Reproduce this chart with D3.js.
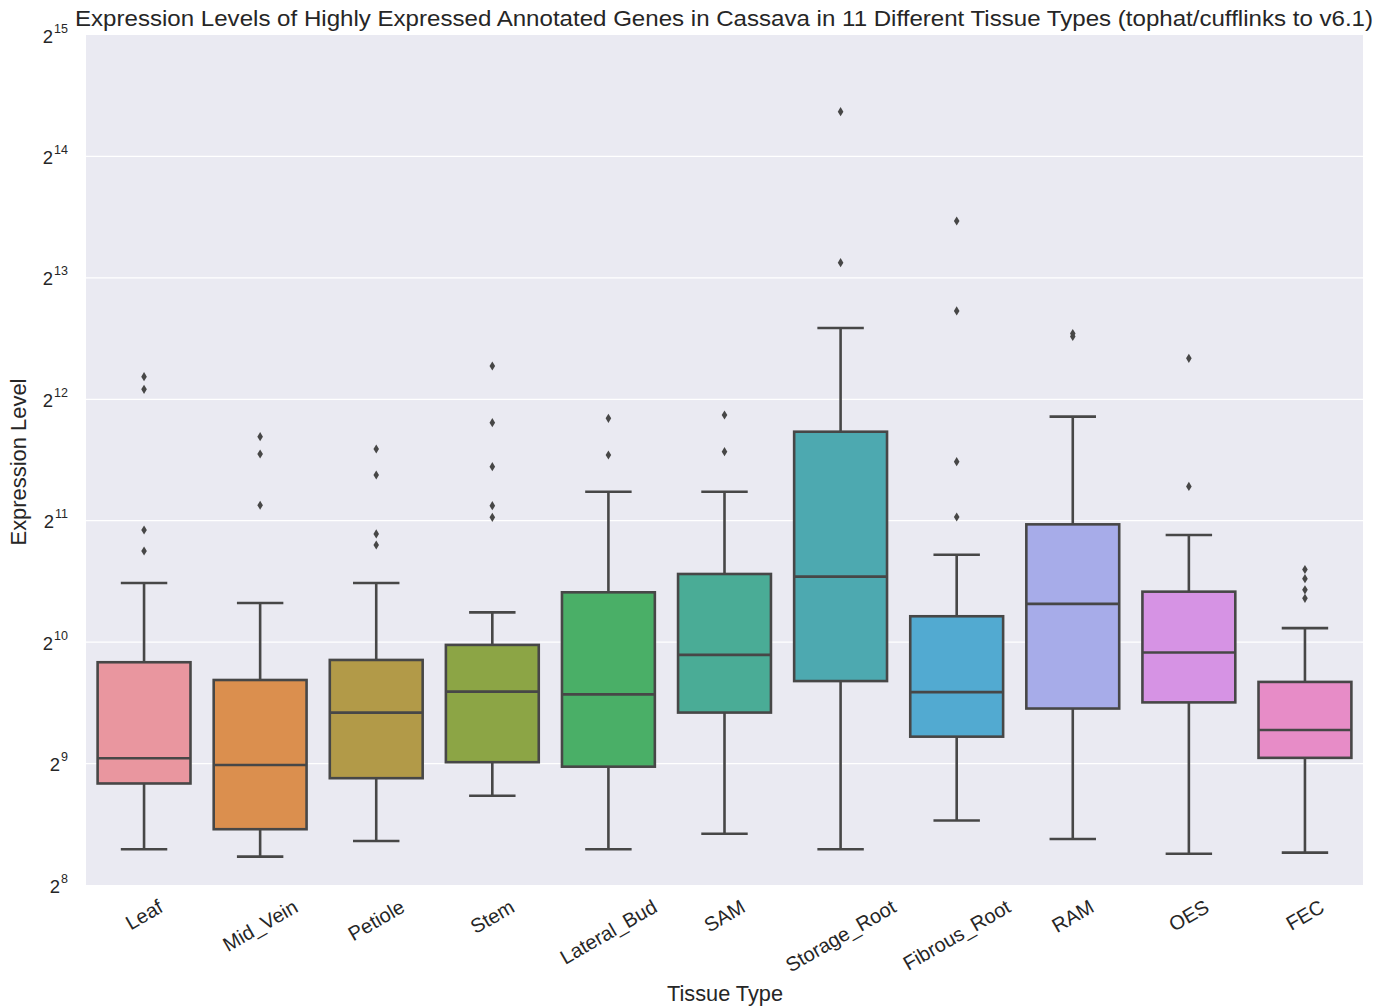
<!DOCTYPE html>
<html>
<head>
<meta charset="utf-8">
<script src="https://cdn.jsdelivr.net/npm/d3@7"></script>
<style>
  html, body { margin: 0; padding: 0; background: #ffffff; }
  svg { display: block; font-family: "Liberation Sans", Arial, sans-serif; }
</style>
</head>
<body>
<svg id="chart" width="1393" height="1007"></svg>
<script>
// Tissue types and box-plot summaries of expression level (FPKM-style values)
const categories = ["Leaf", "Mid_Vein", "Petiole", "Stem", "Lateral_Bud", "SAM",
                    "Storage_Root", "Fibrous_Root", "RAM", "OES", "FEC"];
const whiskerLow  = [314, 301, 329, 426, 314, 343, 314, 370, 333, 306, 308];
const quartile1   = [457, 352, 471, 516, 503, 685, 820, 597, 701, 726, 529];
const medians     = [528, 508, 685, 772, 760, 952, 1488, 770, 1274, 965, 620];
const quartile3   = [913, 825, 925, 1008, 1361, 1511, 3404, 1187, 2006, 1366, 816];
const whiskerHigh = [1435, 1280, 1435, 1214, 2417, 2417, 6153, 1687, 3711, 1887, 1109];
const outliers = [
  [1723, 1942, 4336, 4660],
  [2237, 2997, 3309],
  [1783, 1899, 2659, 3084],
  [2088, 2231, 2788, 3584, 4953],
  [2980, 3675],
  [3037, 3745],
  [8933, 21150],
  [2092, 2868, 6781, 11333],
  [5862, 5963],
  [2491, 5176],
  [1315, 1380, 1471, 1550]
];
const boxColors = ["#E9969F", "#DB8F4E", "#B29A48", "#8CA545", "#4AAF67", "#4AAC96",
                   "#4DA9B0", "#52AAD1", "#A7ACE9", "#D693E4", "#E78CC7"];
const tickExponents = [8, 9, 10, 11, 12, 13, 14, 15];

const titleText = "Expression Levels of Highly Expressed Annotated Genes in Cassava in 11 Different Tissue Types (tophat/cufflinks to v6.1)";
const xLabelText = "Tissue Type";
const yLabelText = "Expression Level";

const margin = { left: 86, right: 30, top: 35, bottom: 122 };
const W = 1393, H = 1007;
const plotW = W - margin.left - margin.right;
const plotH = H - margin.top - margin.bottom;

const lineColor = "#474747";
const lineWidth = 2.6;
const textColor = "#262626";

const svg = d3.select("#chart");
const g = svg.append("g").attr("transform", `translate(${margin.left},${margin.top})`);

const x = d3.scaleBand().domain(categories).range([0, plotW]).paddingInner(0).paddingOuter(0);
const y = d3.scaleLog().base(2)
  .domain([Math.pow(2, tickExponents[0]), Math.pow(2, tickExponents[tickExponents.length - 1])])
  .range([plotH, 0]);

// Axes background and grid
g.append("rect").attr("width", plotW).attr("height", plotH).attr("fill", "#EAEAF2");
g.append("g").selectAll("line").data(tickExponents.slice(1, -1)).join("line")
  .attr("x1", 0).attr("x2", plotW)
  .attr("y1", d => y(Math.pow(2, d))).attr("y2", d => y(Math.pow(2, d)))
  .attr("stroke", "#ffffff").attr("stroke-width", 1.3);

// Y axis with power-of-two labels
const yAxis = d3.axisLeft(y).tickValues(tickExponents.map(e => Math.pow(2, e))).tickSize(0).tickPadding(0);
const yAxisG = g.append("g").call(yAxis);
yAxisG.select(".domain").remove();
yAxisG.selectAll(".tick text").each(function (d) {
  const t = d3.select(this);
  t.text(null).attr("x", -18).attr("dy", null).attr("y", 7)
    .attr("text-anchor", "end").attr("fill", textColor)
    .attr("font-size", 18.5).attr("font-family", "Liberation Sans, Arial, sans-serif");
  t.append("tspan").text("2");
  t.append("tspan").attr("dx", 1).attr("dy", -10).attr("font-size", 12.5).text(Math.round(Math.log2(d)));
});

// Boxes
const bw = x.bandwidth() * 0.8;
const capW = bw / 2;
const boxes = g.append("g").selectAll("g.box").data(categories).join("g")
  .attr("class", "box")
  .attr("transform", d => `translate(${x(d) + x.bandwidth() / 2},0)`);

boxes.append("line")
  .attr("x1", 0).attr("x2", 0)
  .attr("y1", (d, i) => y(whiskerLow[i])).attr("y2", (d, i) => y(quartile1[i]))
  .attr("stroke", lineColor).attr("stroke-width", lineWidth);
boxes.append("line")
  .attr("x1", 0).attr("x2", 0)
  .attr("y1", (d, i) => y(quartile3[i])).attr("y2", (d, i) => y(whiskerHigh[i]))
  .attr("stroke", lineColor).attr("stroke-width", lineWidth);
boxes.append("line")
  .attr("x1", -capW / 2).attr("x2", capW / 2)
  .attr("y1", (d, i) => y(whiskerLow[i])).attr("y2", (d, i) => y(whiskerLow[i]))
  .attr("stroke", lineColor).attr("stroke-width", lineWidth);
boxes.append("line")
  .attr("x1", -capW / 2).attr("x2", capW / 2)
  .attr("y1", (d, i) => y(whiskerHigh[i])).attr("y2", (d, i) => y(whiskerHigh[i]))
  .attr("stroke", lineColor).attr("stroke-width", lineWidth);
boxes.append("rect")
  .attr("x", -bw / 2).attr("width", bw)
  .attr("y", (d, i) => y(quartile3[i]))
  .attr("height", (d, i) => y(quartile1[i]) - y(quartile3[i]))
  .attr("fill", (d, i) => boxColors[i])
  .attr("stroke", lineColor).attr("stroke-width", lineWidth);
boxes.append("line")
  .attr("x1", -bw / 2).attr("x2", bw / 2)
  .attr("y1", (d, i) => y(medians[i])).attr("y2", (d, i) => y(medians[i]))
  .attr("stroke", lineColor).attr("stroke-width", lineWidth);

// Outlier markers (thin diamonds)
const diamond = "M0,-4.6L2.8,0L0,4.6L-2.8,0Z";
boxes.each(function (d, i) {
  d3.select(this).selectAll("path.flier").data(outliers[i]).join("path")
    .attr("class", "flier")
    .attr("d", diamond)
    .attr("transform", v => `translate(0,${y(v)})`)
    .attr("fill", lineColor);
});

// X tick labels rotated 30 degrees, centred under each box
const xFont = 20;
const xLab = g.append("g").selectAll("text").data(categories).join("text")
  .attr("font-size", xFont).attr("fill", textColor)
  .attr("text-anchor", "middle").attr("dominant-baseline", "central")
  .text(d => d);
const ang = 30 * Math.PI / 180;
xLab.each(function (d) {
  const w = this.getComputedTextLength();
  const h = xFont * 0.8;
  const bh = w * Math.sin(ang) + h * Math.cos(ang);
  const cx = x(d) + x.bandwidth() / 2;
  const cy = plotH + 13 + bh / 2;
  d3.select(this).attr("transform", `translate(${cx},${cy}) rotate(-30)`);
});

// Title and axis labels
svg.append("text")
  .attr("x", 75).attr("y", 26)
  .attr("font-size", 22.5).attr("fill", textColor)
  .attr("textLength", 1298).attr("lengthAdjust", "spacingAndGlyphs")
  .text(titleText);

svg.append("text")
  .attr("x", 725).attr("y", 1001)
  .attr("text-anchor", "middle")
  .attr("font-size", 21.5).attr("fill", textColor)
  .attr("textLength", 116).attr("lengthAdjust", "spacingAndGlyphs")
  .text(xLabelText);

svg.append("text")
  .attr("transform", "translate(26,462) rotate(-90)")
  .attr("text-anchor", "middle")
  .attr("font-size", 21.5).attr("fill", textColor)
  .attr("textLength", 167).attr("lengthAdjust", "spacingAndGlyphs")
  .text(yLabelText);
</script>
</body>
</html>
